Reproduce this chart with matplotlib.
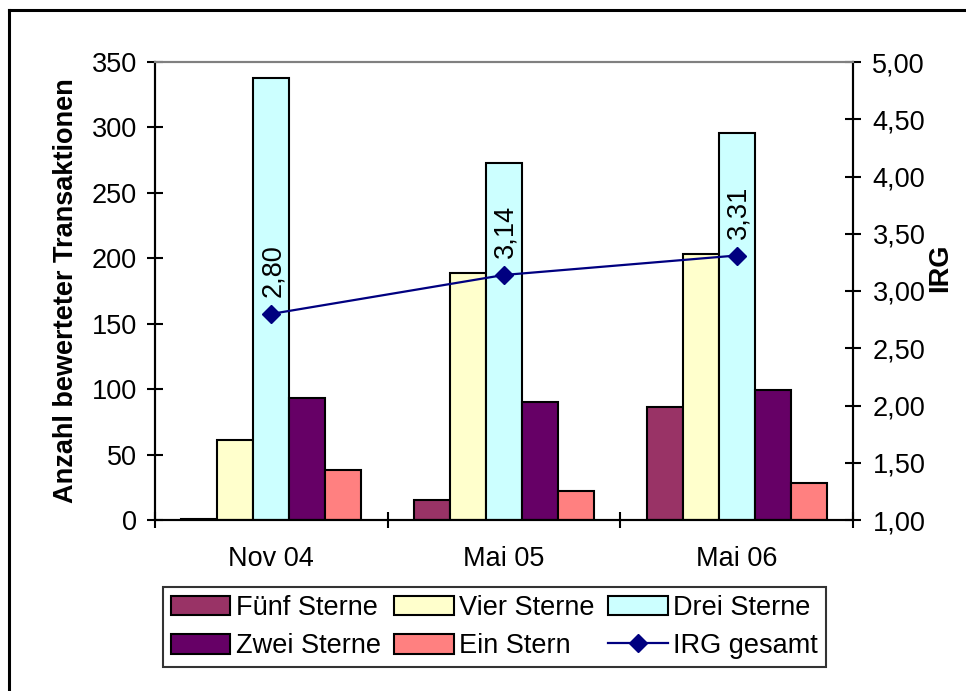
import matplotlib
matplotlib.use("Agg")
import matplotlib.pyplot as plt
import numpy as np
from matplotlib.lines import Line2D

plt.rcParams['font.family'] = ['Liberation Sans', 'DejaVu Sans']

# Data
periods = ["Nov 04", "Mai 05", "Mai 06"]
series_names = ["Fünf Sterne", "Vier Sterne", "Drei Sterne", "Zwei Sterne", "Ein Stern"]
fuenf = [1, 15, 86]
vier = [61, 189, 203]
drei = [338, 273, 296]
zwei = [93, 90, 99]
ein = [38, 22, 28]
irg = [2.80, 3.14, 3.31]
irg_name = "IRG gesamt"

colors = ["#993366", "#FFFFCC", "#CCFFFF", "#660066", "#FF8080"]
line_color = "#000080"

FS = 19.5
W, H = 966, 691
fig = plt.figure(figsize=(W / 100, H / 100), dpi=100)

ax = fig.add_axes([155 / W, 1 - 520 / H, (853 - 155) / W, (520 - 62) / H])
ax2 = ax.twinx()

x = np.arange(len(periods))
bw = 0.155
series = [fuenf, vier, drei, zwei, ein]
bar_handles = []
for i, (vals, col, name) in enumerate(zip(series, colors, series_names)):
    b = ax.bar(x + (i - 2) * bw, vals, width=bw, color=col, edgecolor="black",
               linewidth=1.5, label=name, zorder=2)
    bar_handles.append(b)

ax.set_xlim(-0.5, 2.5)
ax.set_ylim(0, 350)
ax.set_yticks(np.arange(0, 351, 50))
ax.set_xticks([-0.5, 0.5, 1.5, 2.5])
ax.set_xticklabels([])
ax.set_xticks(x, minor=True)
ax.set_xticklabels(periods, minor=True)
ax.tick_params(axis='x', which='minor', length=0, pad=19, labelsize=FS)
ax.tick_params(axis='x', which='major', direction='inout', length=12, width=1.5)
ax.tick_params(axis='y', direction='inout', length=12, width=1.5, labelsize=FS, pad=7)

ax.set_ylabel("Anzahl bewerteter Transaktionen", fontsize=FS, fontweight='bold', labelpad=9)

# IRG line on the secondary axis
ax2.set_ylim(1.0, 5.0)
ax2.set_yticks(np.arange(1.0, 5.01, 0.5))
ax2.set_yticklabels([f"{v:.2f}".replace(".", ",") for v in np.arange(1.0, 5.01, 0.5)])
ax2.tick_params(axis='y', direction='inout', length=12, width=1.5, labelsize=FS, pad=8)
line, = ax2.plot(x, irg, color=line_color, linewidth=1.6, marker='D', markersize=9,
                 label=irg_name, zorder=5)
for xi, v in zip(x, irg):
    ax2.annotate(f"{v:.2f}".replace(".", ","), (xi, v), xytext=(1, 12),
                 textcoords='offset points', rotation=90, ha='center', va='bottom',
                 fontsize=FS)

for a in (ax, ax2):
    for s in ("left", "right", "bottom"):
        a.spines[s].set_linewidth(1.5)
        a.spines[s].set_color("black")
    a.spines["top"].set_color("#808080")
    a.spines["top"].set_linewidth(1.5)

fig.text(940 / W, 1 - 268 / H, "IRG", rotation=90, fontsize=FS, fontweight='bold',
         ha='center', va='center')

# Legend ordered row by row (matplotlib fills columns first)
h = bar_handles + [line]
order = [0, 3, 1, 4, 2, 5]
leg = fig.legend([h[i] for i in order],
                 [(series_names + [irg_name])[i] for i in order],
                 ncol=3, loc='center', bbox_to_anchor=((168 + 821) / 2 / W, 1 - 627 / H),
                 fontsize=FS, frameon=True, fancybox=False, edgecolor='black',
                 handlelength=2.2, handleheight=0.75, handletextpad=0.2,
                 columnspacing=0.5, labelspacing=0.45, borderpad=0.3)
leg.get_frame().set_linewidth(1.5)

# Outer chart border
fig.add_artist(Line2D([9 / W, 9 / W], [0, 1 - 10 / H], color='black', linewidth=2.2,
                      transform=fig.transFigure))
fig.add_artist(Line2D([9 / W, 1], [1 - 10 / H, 1 - 10 / H], color='black', linewidth=2.2,
                      transform=fig.transFigure))

fig.savefig("out.png", dpi=100)
